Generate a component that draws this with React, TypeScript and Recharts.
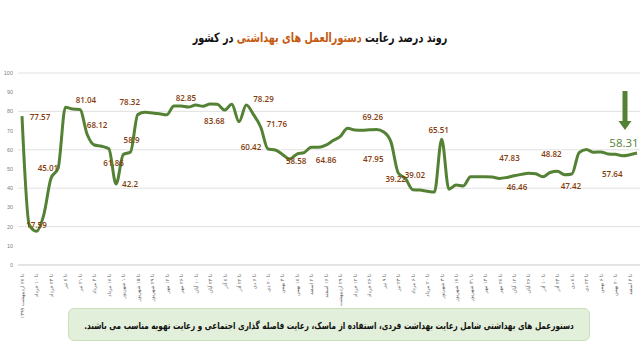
import React from 'react'
import { LineChart, Line, XAxis, YAxis, CartesianGrid, LabelList } from 'recharts'

// weekly periods ("تا ..." = up to date)
const WEEKS = [
  '۲۷ اردیبهشت ۱۳۹۹', '۳ خرداد', '۱۰ خرداد', '۱۷ خرداد', '۲۴ خرداد', '۳۱ خرداد',
  '۷ تیر', '۱۴ تیر', '۲۱ تیر', '۲۸ تیر', '۴ مرداد', '۱۱ مرداد', '۱۸ مرداد', '۲۵ مرداد',
  '۱ شهریور', '۸ شهریور', '۱۵ شهریور', '۲۲ شهریور', '۲۹ شهریور', '۵ مهر', '۱۲ مهر',
  '۱۹ مهر', '۲۶ مهر', '۳ آبان', '۱۰ آبان', '۱۷ آبان', '۲۴ آبان', '۱ آذر', '۸ آذر',
  '۱۵ آذر', '۲۲ آذر', '۲۹ آذر', '۶ دی', '۱۳ دی', '۲۰ دی', '۲۷ دی', '۴ بهمن', '۱۱ بهمن',
  '۱۸ بهمن', '۲۵ بهمن', '۲ اسفند', '۹ اسفند', '۱۶ اسفند', '۲۲ اردیبهشت ۱۴۰۰',
  '۲۹ اردیبهشت ۱۴۰۰', '۵ خرداد', '۱۲ خرداد', '۱۹ خرداد', '۲۶ خرداد', '۲ تیر', '۹ تیر',
  '۱۶ تیر', '۲۳ تیر', '۳۰ تیر', '۶ مرداد', '۱۳ مرداد', '۲۰ مرداد', '۲۷ مرداد',
  '۳ شهریور', '۱۰ شهریور', '۱۷ شهریور', '۲۴ شهریور', '۳۱ شهریور', '۷ مهر', '۱۴ مهر',
  '۲۱ مهر', '۲۸ مهر', '۵ آبان', '۱۲ آبان', '۱۹ آبان', '۲۶ آبان', '۳ آذر', '۱۰ آذر',
  '۱۷ آذر', '۲۴ آذر', '۱ دی', '۸ دی', '۱۵ دی', '۲۲ دی', '۲۹ دی', '۶ بهمن', '۱۳ بهمن',
  '۲۰ بهمن', '۲۷ بهمن', '۴ اسفند', '۱۱ اسفند',
]

const COMPLIANCE = [
  77.57, 21, 17.59, 26, 45.01, 50.5, 82.2, 81.2, 81.04, 68.12,
  62.5, 61.86, 60.5, 42.2, 57.6, 58.9, 78.32, 79.5, 79.2, 78.8,
  78.2, 82.85, 82.8, 82.3, 83.3, 82.7, 83.9, 83.68, 80.7, 83.7,
  74.6, 83.3, 78.29, 71.76, 60.42, 59.9, 57.6, 55.2, 57.8, 58.58,
  61.3, 61.3, 62.4, 64.86, 67, 71.2, 70.3, 70.2, 70.4, 70.6,
  69.26, 64, 47.95, 45, 39.22, 39.02, 38.4, 38, 65.51, 39.5,
  41.7, 41.2, 46, 46, 46, 45.8, 45.1, 45.6, 46.46, 47.2,
  47.83, 47.5, 46, 48.2, 48.82, 47, 47.42, 58.5, 60.2, 58.7,
  58.9, 57.8, 57.64, 56.9, 57.4, 58.31,
]

const Y_TICKS = [0, 10, 20, 30, 40, 50, 60, 70, 80, 90, 100]

// which points carry a value label, and where the label sits relative to the point
const LABEL_OFFSETS: Record<number, [number, number]> = {
  0: [18, 0], 2: [0, -7], 4: [-3, -11], 8: [6, -10], 9: [10, -10], 11: [12, 16],
  13: [14, 0], 15: [1, -12], 16: [-8, -13], 21: [12, -8], 27: [-3, 16], 32: [10, -16],
  33: [16, -4], 34: [-17, -2], 39: [-8, 8], 43: [-7, 19], 50: [-11, -16], 52: [-25, -14],
  54: [-17, -11], 55: [-5, -16], 58: [-3, -10], 68: [3, 11], 70: [-19, -16], 74: [-6, -18],
  76: [-1, 12], 82: [-3, 19], 85: [-13, -11],
}

const LAST = COMPLIANCE.length - 1
const data = WEEKS.map((w, i) => ({ week: w, value: COMPLIANCE[i] }))

const GREEN = '#548235'
const BROWN = '#843C0C'

// eslint-disable-next-line @typescript-eslint/no-explicit-any
function ValueLabel(props: any) {
  const { x, y, index, value } = props
  const off = LABEL_OFFSETS[index]
  if (!off) return null
  if (index === LAST) {
    // highlighted latest value with the arrow above it
    const ax = x - 12
    return (
      <g>
        <rect x={ax - 2.5} y={y - 62} width={5} height={31} fill={GREEN} />
        <polygon points={`${ax - 6.5},${y - 32} ${ax + 6.5},${y - 32} ${ax},${y - 23}`} fill={GREEN} />
        <text x={x + off[0]} y={y + off[1]} textAnchor="middle" dominantBaseline="central"
          fill={GREEN} fontSize={11.5} fontFamily="Open Sans" fontWeight={500}>
          {value}
        </text>
      </g>
    )
  }
  return (
    <text x={x + off[0]} y={y + off[1]} textAnchor="middle" dominantBaseline="central"
      fill={BROWN} fontSize={8} fontFamily="Open Sans" fontWeight={600}>
      {value}
    </text>
  )
}

// eslint-disable-next-line @typescript-eslint/no-explicit-any
function WeekTick({ x, y, payload }: any) {
  return (
    <text x={x} y={y} transform={`rotate(-90, ${x}, ${y})`} textAnchor="end"
      dominantBaseline="central" fill="#595959" fontSize={5} fontFamily="DejaVu Sans">
      {'تا ' + payload.value}
    </text>
  )
}

export default function App() {
  return (
    <div style={{ position: 'absolute', left: 0, top: 0, width: 640, height: 359, background: '#fff', overflow: 'hidden' }}>
      <div dir="rtl" style={{
        position: 'absolute', top: 30, left: 0, width: 640, textAlign: 'center', whiteSpace: 'nowrap',
        fontFamily: 'DejaVu Sans', fontWeight: 'bold', fontSize: 13, color: '#111',
        transform: 'scaleX(0.74)',
      }}>
        روند درصد رعایت <span style={{ color: '#C55A11' }}>دستورالعمل های بهداشتی</span> در کشور
      </div>

      <div style={{ position: 'absolute', top: 0, left: 0 }}>
        <LineChart width={640} height={359} data={data} margin={{ top: 73, right: 0, bottom: 47, left: 0 }}>
          <CartesianGrid vertical={false} stroke="#D9D9D9" strokeWidth={0.8} />
          <XAxis
            dataKey="week"
            interval={1}
            tick={<WeekTick />}
            tickLine={false}
            axisLine={{ stroke: '#D9D9D9' }}
            height={47}
            tickMargin={3}
            padding={{ left: 4, right: 3 }}
          />
          <YAxis
            domain={[0, 100]}
            ticks={Y_TICKS}
            width={18}
            axisLine={false}
            tickLine={false}
            tickSize={3}
            tickMargin={2}
            tick={{ fill: '#7F7F7F', fontSize: 5.5, fontFamily: 'Liberation Sans' }}
          />
          <Line
            type="monotone"
            dataKey="value"
            stroke={GREEN}
            strokeWidth={3}
            dot={false}
            isAnimationActive={false}
          >
            <LabelList dataKey="value" content={<ValueLabel />} />
          </Line>
        </LineChart>
      </div>

      <div style={{
        position: 'absolute', left: 68, top: 308, width: 522, height: 33, boxSizing: 'border-box',
        background: '#E2EFDA', border: '1px solid #C9E0BA', borderRadius: 6,
      }}>
        <div dir="rtl" style={{
          position: 'absolute', left: '50%', top: '50%', whiteSpace: 'nowrap',
          transform: 'translate(-50%, -50%) scaleX(0.765)',
          fontFamily: 'DejaVu Sans', fontWeight: 'bold', fontSize: 9.5, color: '#111',
        }}>
          دستورعمل های بهداشتی شامل رعایت بهداشت فردی، استفاده از ماسک، رعایت فاصله گذاری اجتماعی و رعایت تهویه مناسب می باشند.
        </div>
      </div>
    </div>
  )
}
